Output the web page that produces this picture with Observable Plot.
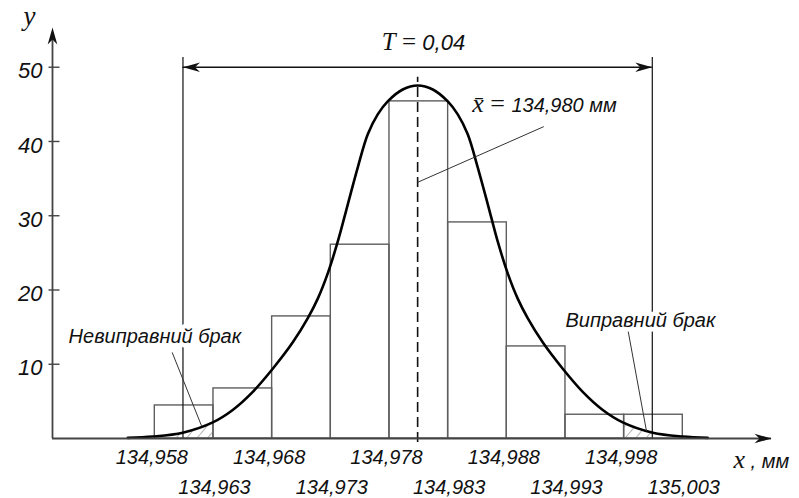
<!DOCTYPE html>
<html>
<head>
<meta charset="utf-8">
<script src="https://cdn.jsdelivr.net/npm/d3@7"></script>
<script src="https://cdn.jsdelivr.net/npm/@observablehq/plot@0.6"></script>
<style>
  html, body { margin: 0; padding: 0; background: #fff; }
  #chart svg { display: block; }
</style>
</head>
<body>
<div id="chart"></div>
<script>
// ---- data ----
const binEdges = [134.958, 134.963, 134.968, 134.973, 134.978, 134.983, 134.988, 134.993, 134.998, 135.003];
const binCounts = [4.45, 6.74, 16.44, 26.1, 45.4, 29.1, 12.4, 3.2, 3.2];

const curveX = [134.95570, 134.95783, 134.96038, 134.96294, 134.96464, 134.96635, 134.96805, 134.96976, 134.97104,
                134.97189, 134.97274, 134.97359, 134.97445, 134.97530, 134.97615, 134.97700, 134.97785, 134.97913,
                134.98041,
                134.98169, 134.98297, 134.98382, 134.98467, 134.98552, 134.98638, 134.98723, 134.98808, 134.98893,
                134.98978, 134.99106, 134.99277, 134.99447, 134.99618, 134.99788, 135.00044, 135.00299, 135.00512];
const curveY = [0.09, 0.26, 0.78, 2.17, 3.84, 6.28, 9.39, 12.95, 16.21,
                18.84, 22.24, 26.50, 31.54, 36.52, 40.97, 43.65, 45.40, 47.00,
                47.53,
                47.00, 45.40, 43.65, 40.97, 36.52, 31.54, 26.50, 22.24, 18.84,
                16.21, 12.95, 9.39, 6.28, 3.84, 2.17, 0.78, 0.26, 0.09];

const hatchLeftX = [134.9596, 134.96038, 134.96294, 134.963];
const hatchLeftY = [0.62, 0.78, 2.17, 2.2];
const hatchRightX = [134.998, 134.9990, 135.0003];
const hatchRightY = [2.12, 1.5, 0.82];

const tickLabelsRow1 = ["134,958", "134,968", "134,978", "134,988", "134,998"];
const tickLabelsRow2 = ["134,963", "134,973", "134,983", "134,993", "135,003"];
const yTicks = [10, 20, 30, 40, 50];

const meanValue = 134.9804;
const tolLow = 134.9604, tolHigh = 135.0004;
const tolLevel = 50;
const xDomain = [134.94928, 135.01056];
const yDomain = [0, 55.35];

const labelT = "T = 0,04";
const labelMean = "x\u0304 = 134,980 мм";
const labelUnfix = "Невиправний брак";
const labelFix = "Виправний брак";
const labelX = "x , мм";
const labelY = "y";

// annotation anchors (data units)
const meanLabelPos = {x: 134.98505, y: 43.94};
const meanLeader = {x1: 134.99115, y1: 42.0, x2: meanValue, y2: 34.5};
const unfixLabelPos = {x: 134.95065, y: 12.80};
const unfixLeader = {x1: 134.95948, y1: 11.59, x2: 134.96198, y2: 1.71};
const fixLabelPos = {x: 134.9930, y: 14.96};
const fixLeader = {x1: 134.99831, y1: 14.74, x2: 134.9999, y2: 1.04};
const tLabelPos = {x: 134.9809, y: 52.35};
const xLabelPos = {x: 135.00732, y: 0};

// ---- derived tables ----
const bins = binCounts.map((c, i) => ({x1: binEdges[i], x2: binEdges[i + 1], y: c}));
const curve = curveX.map((x, i) => ({x, y: curveY[i]}));
const hatchLeft = hatchLeftX.map((x, i) => ({x, y: hatchLeftY[i]}));
const hatchRight = hatchRightX.map((x, i) => ({x, y: hatchRightY[i]}));
const parse = s => +s.replace(",", ".");

const SANS = "Liberation Sans, Arial, sans-serif";
const SERIF = "Liberation Serif, Times New Roman, serif";

// custom symbols
const arrowUp = {draw(c) { c.moveTo(0, 0); c.lineTo(4.8, 17); c.lineTo(0, 12); c.lineTo(-4.8, 17); c.closePath(); }};
const arrowRight = {draw(c) { c.moveTo(0, 0); c.lineTo(-17, 4.8); c.lineTo(-12, 0); c.lineTo(-17, -4.8); c.closePath(); }};
const arrowLeft = {draw(c) { c.moveTo(0, 0); c.lineTo(17, 4.8); c.lineTo(12, 0); c.lineTo(17, -4.8); c.closePath(); }};
const tickSym = {draw(c) { c.moveTo(-4, 0); c.lineTo(7, 0); }};

const txt = {fontFamily: SANS, fontStyle: "italic", fill: "#111", lineAnchor: "bottom"};

const plot = Plot.plot({
  width: 799,
  height: 498,
  marginLeft: 52,
  marginRight: 28,
  marginTop: 27,
  marginBottom: 60,
  x: {domain: xDomain, axis: null},
  y: {domain: yDomain, axis: null},
  style: {background: "white", overflow: "visible"},
  marks: [
    // histogram
    Plot.rect(bins, {x1: "x1", x2: "x2", y1: 0, y2: "y", fill: "none", stroke: "#5e5e5e", strokeWidth: 1.4}),
    // hatched tails
    Plot.areaY(hatchLeft, {x: "x", y: "y", fill: "url(#hatch)"}),
    Plot.areaY(hatchRight, {x: "x", y: "y", fill: "url(#hatch)"}),
    // tolerance lines
    Plot.ruleX([tolLow, tolHigh], {y1: 0, y2: 51.3, stroke: "#111", strokeWidth: 1.2}),
    Plot.ruleY([tolLevel], {x1: tolLow, x2: tolHigh, stroke: "#111", strokeWidth: 1.3}),
    Plot.dot([{x: tolLow, y: tolLevel}], {x: "x", y: "y", symbol: arrowLeft, fill: "#111", stroke: "none"}),
    Plot.dot([{x: tolHigh, y: tolLevel}], {x: "x", y: "y", symbol: arrowRight, fill: "#111", stroke: "none"}),
    // normal curve
    Plot.line(curve, {x: "x", y: "y", curve: "catmull-rom", stroke: "#000", strokeWidth: 2.6}),
    // mean line
    Plot.ruleX([meanValue], {y1: -0.54, y2: 48.65, stroke: "#111", strokeWidth: 1.6, strokeDasharray: "10,5"}),
    // leaders
    Plot.link([meanLeader, unfixLeader, fixLeader], {x1: "x1", y1: "y1", x2: "x2", y2: "y2", stroke: "#333", strokeWidth: 1}),
    // labels with halos
    Plot.text([unfixLabelPos], {x: "x", y: "y", text: () => labelUnfix, textAnchor: "start", fontSize: 20, stroke: "white", strokeWidth: 9, ...txt}),
    Plot.text([fixLabelPos], {x: "x", y: "y", text: () => labelFix, textAnchor: "start", fontSize: 20, stroke: "white", strokeWidth: 9, ...txt}),
    Plot.text([meanLabelPos], {x: "x", y: "y", text: () => labelMean, textAnchor: "start", fontSize: 20, ...txt}),
    Plot.text([tLabelPos], {x: "x", y: "y", text: () => labelT, textAnchor: "middle", fontSize: 22, ...txt}),
    // axes
    Plot.ruleY([0], {x1: xDomain[0], x2: xDomain[1], stroke: "#444", strokeWidth: 1.8}),
    Plot.ruleX([xDomain[0]], {y1: 0, y2: yDomain[1] - 1, stroke: "#444", strokeWidth: 1.8}),
    Plot.dot([{x: xDomain[0], y: yDomain[1]}], {x: "x", y: "y", symbol: arrowUp, fill: "#111", stroke: "none"}),
    Plot.dot([{x: xDomain[1], y: 0}], {x: "x", y: "y", symbol: arrowRight, fill: "#111", stroke: "none"}),
    Plot.dot(yTicks, {x: xDomain[0], y: d => d, symbol: tickSym, fill: "none", stroke: "#444", strokeWidth: 1.4}),
    Plot.text(yTicks, {x: xDomain[0], y: d => d, text: d => String(d), textAnchor: "end", dx: -10, dy: 4,
      fontSize: 22, fontFamily: SANS, fontStyle: "italic", fill: "#111"}),
    Plot.text(tickLabelsRow1, {x: parse, y: 0, text: d => d, textAnchor: "middle", dx: -3, dy: 25, fontSize: 20, ...txt}),
    Plot.text(tickLabelsRow2, {x: parse, y: 0, text: d => d, textAnchor: "middle", dx: 1, dy: 55, fontSize: 20, ...txt}),
    Plot.text([xLabelPos], {x: "x", y: "y", text: () => labelX, textAnchor: "start", dy: 29, fontSize: 20, ...txt}),
    Plot.text([{x: xDomain[0], y: yDomain[1]}], {x: "x", y: "y", text: () => labelY, textAnchor: "middle", dx: -23, dy: -3,
      fontSize: 27, fontFamily: SERIF, fontStyle: "italic", fill: "#111", lineAnchor: "bottom"})
  ]
});

// hatch pattern definition
const ns = "http://www.w3.org/2000/svg";
const defs = document.createElementNS(ns, "defs");
defs.innerHTML = '<pattern id="hatch" patternUnits="userSpaceOnUse" width="8" height="8" patternTransform="rotate(40)">' +
  '<line x1="0" y1="0" x2="0" y2="8" stroke="#777" stroke-width="1.1"/></pattern>';
plot.insertBefore(defs, plot.firstChild);

// mixed-font labels
function restyle(content, parts) {
  plot.querySelectorAll("text").forEach(el => {
    if (el.textContent !== content) return;
    el.textContent = "";
    for (const p of parts) {
      const ts = document.createElementNS(ns, "tspan");
      ts.textContent = p.t;
      ts.setAttribute("font-family", p.f);
      ts.setAttribute("font-size", p.s);
      ts.setAttribute("font-style", p.i ? "italic" : "normal");
      el.appendChild(ts);
    }
  });
}
restyle(labelT, [{t: "T", f: SERIF, s: 25, i: true}, {t: " = ", f: SERIF, s: 25, i: false}, {t: "0,04", f: SANS, s: 22, i: true}]);
restyle(labelMean, [{t: "x\u0304", f: SERIF, s: 26, i: true}, {t: " = ", f: SERIF, s: 26, i: false}, {t: "134,980 мм", f: SANS, s: 20, i: true}]);
restyle(labelX, [{t: "x", f: SERIF, s: 26, i: true}, {t: " , мм", f: SANS, s: 20, i: true}]);

document.getElementById("chart").appendChild(plot);
</script>
</body>
</html>
